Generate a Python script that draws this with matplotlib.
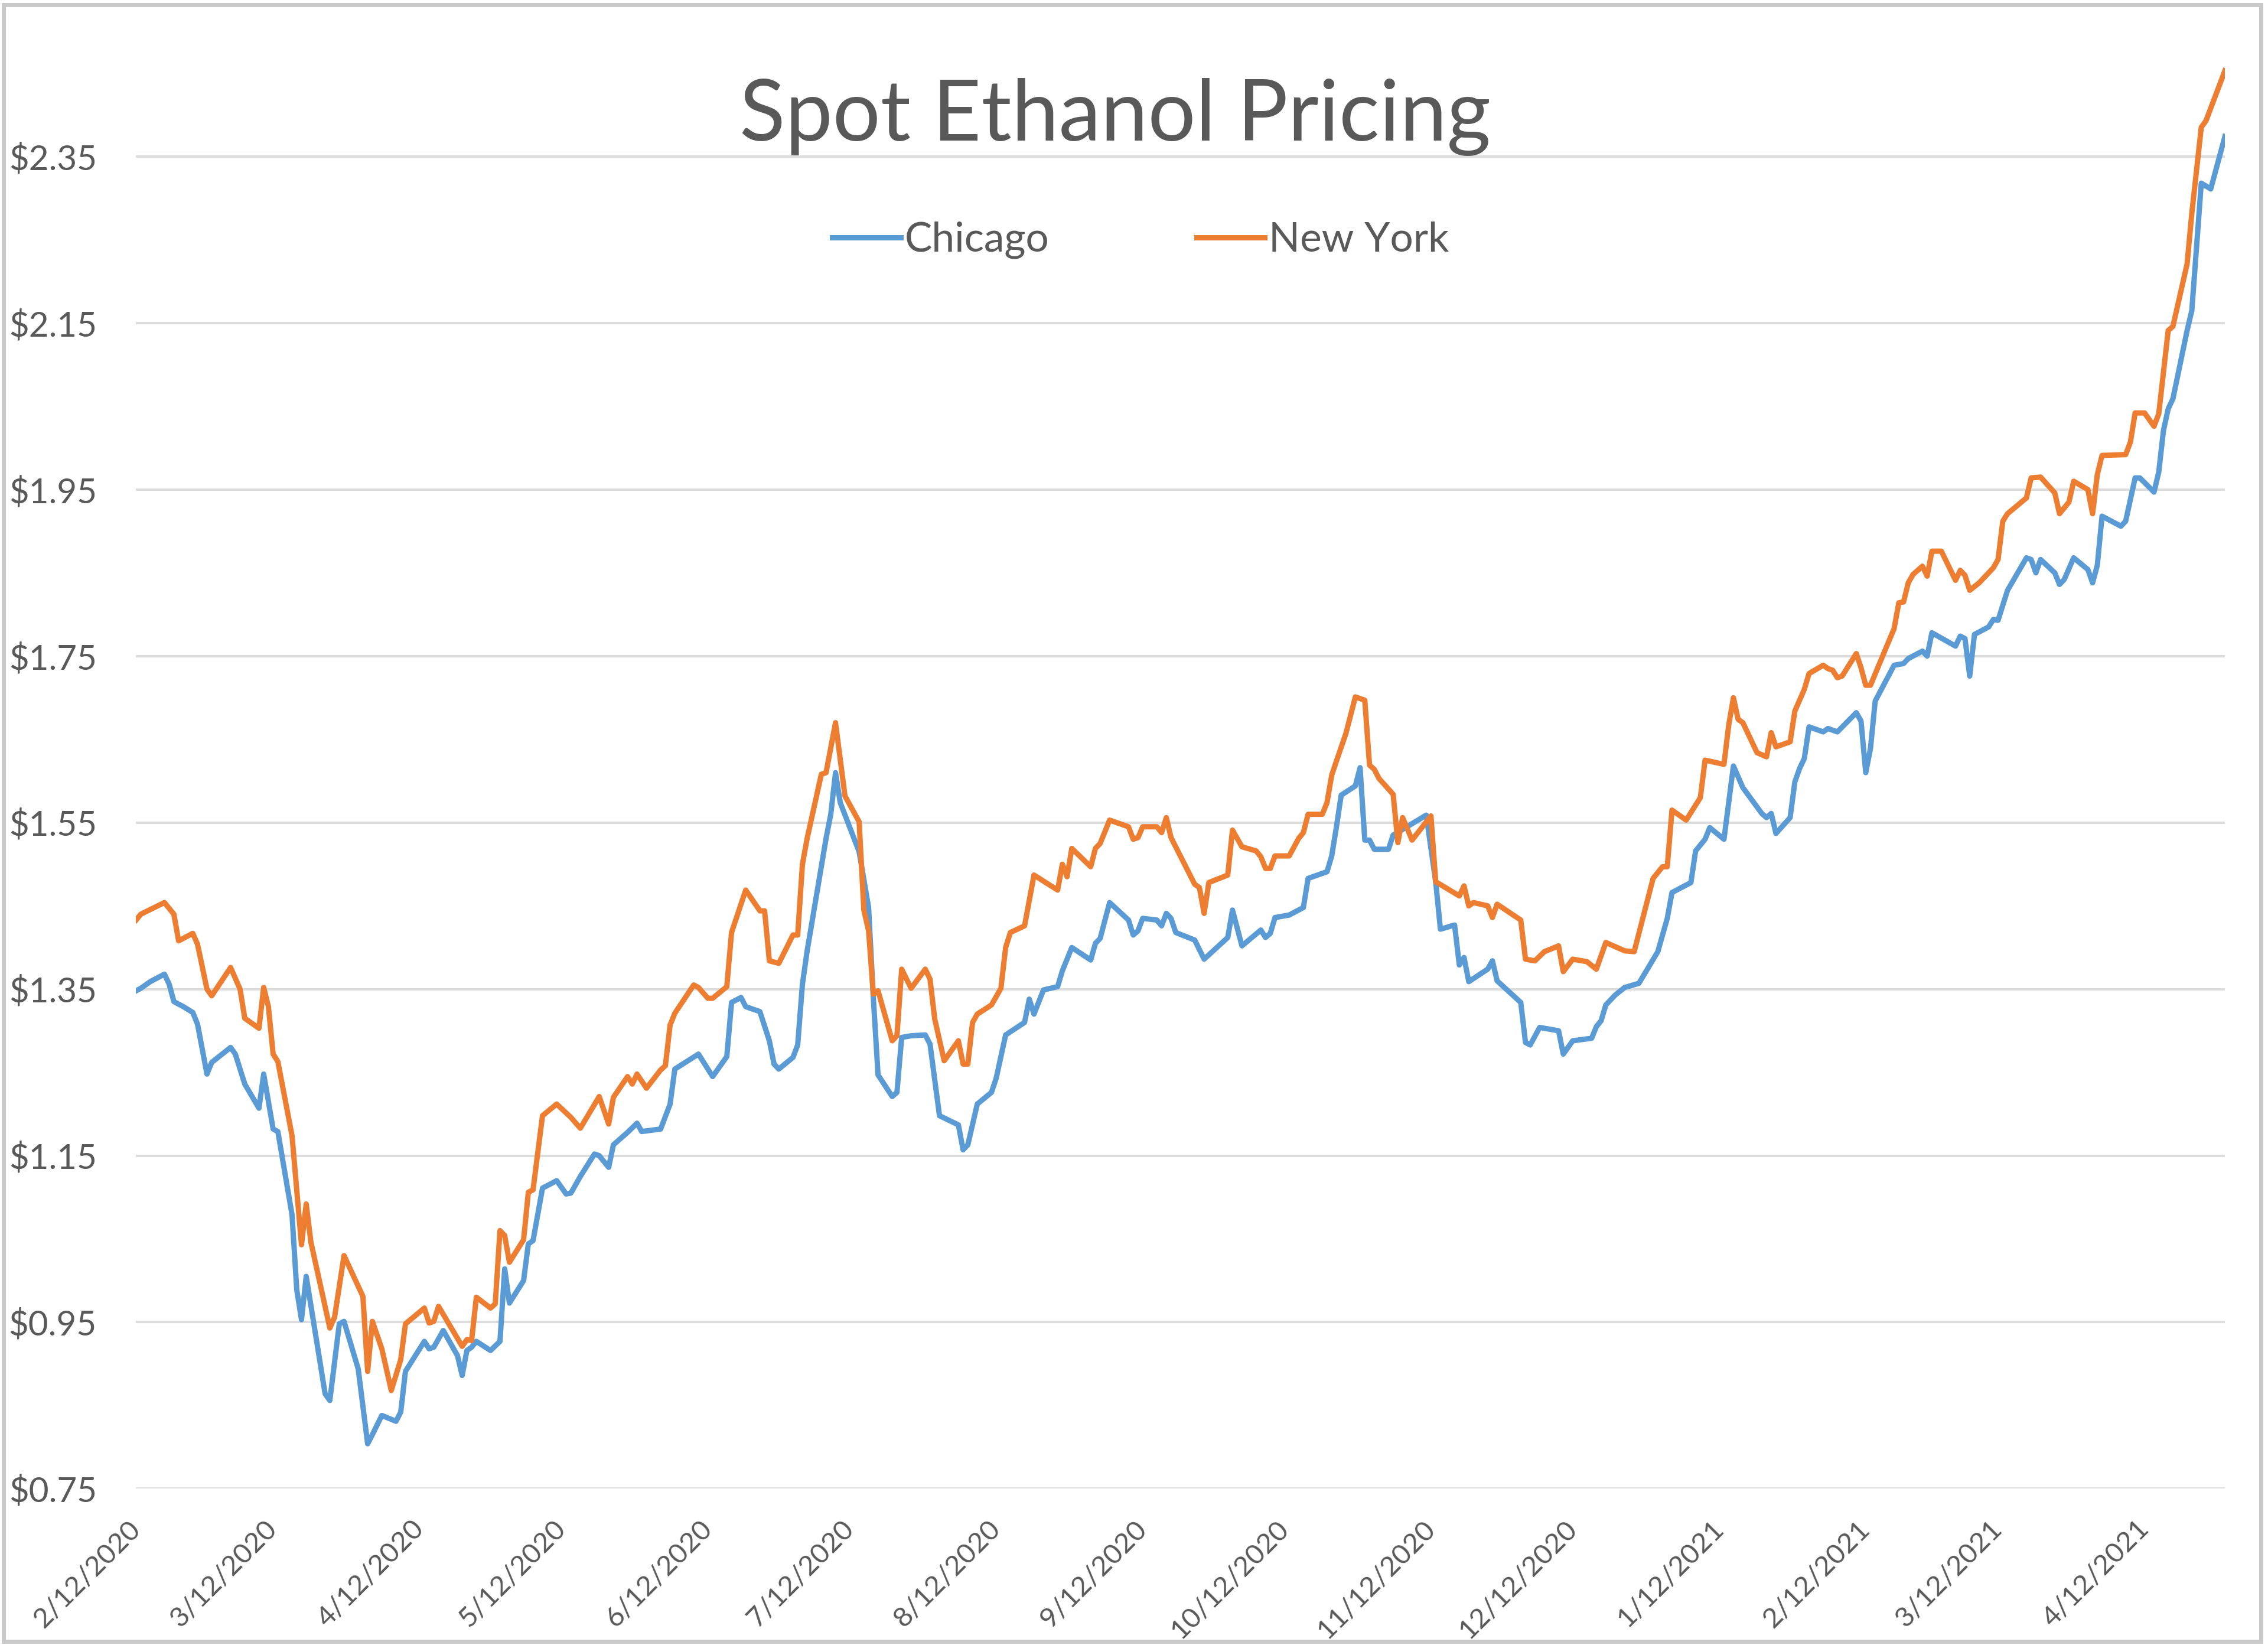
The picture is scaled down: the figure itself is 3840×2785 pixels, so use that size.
import numpy as np
import pandas as pd
import matplotlib
matplotlib.use('Agg')
import matplotlib.pyplot as plt
from matplotlib.patches import Rectangle

plt.rcParams['font.family'] = ['Lato', 'DejaVu Sans']

start = pd.Timestamp('2020-02-12')

# days after 2/12/2020
chi_days = [0, 1, 3, 6, 7, 8, 10, 12, 13, 15, 16, 20, 21, 23, 26, 27, 29, 30, 33, 34,
            35, 36, 40, 41, 43, 44, 47, 49, 50, 52, 55, 56, 57, 61, 62, 63, 65, 68, 69, 70,
            71, 72, 75, 77, 78, 79, 82, 83, 84, 86, 89, 91, 92, 94, 97, 98, 100, 101, 104, 106,
            107, 111, 113, 114, 119, 122, 125, 126, 128, 129, 132, 134, 135, 136, 139, 140, 141, 142, 146, 147,
            148, 149, 153, 155, 156, 157, 160, 161, 162, 164, 167, 168, 170, 174, 175, 176, 178, 181, 182, 184,
            188, 189, 190, 192, 195, 196, 198, 202, 203, 204, 206, 210, 211, 212, 213, 216, 217, 218, 219, 220,
            224, 226, 231, 232, 234, 238, 239, 240, 241, 244, 247, 248, 252, 253, 254, 255, 258, 259, 260, 261,
            262, 265, 266, 273, 275, 276, 279, 280, 281, 282, 286, 287, 288, 293, 294, 295, 297, 301, 302, 304,
            308, 309, 310, 311, 313, 315, 318, 322, 324, 325, 329, 330, 332, 333, 336, 338, 340, 344, 345, 346,
            347, 350, 351, 352, 353, 354, 357, 358, 360, 364, 365, 366, 367, 368, 372, 374, 375, 378, 379, 380,
            385, 386, 387, 388, 389, 392, 393, 394, 396, 400, 401, 402, 403, 406, 407, 408, 410, 413, 414, 415,
            416, 420, 421, 423, 424, 427, 428, 429, 430, 431, 434, 435, 437, 439, 442]
chicago = [1.348, 1.351, 1.359, 1.368, 1.356, 1.335, 1.329, 1.322, 1.308, 1.248, 1.262, 1.280, 1.272, 1.236, 1.207, 1.248, 1.182, 1.179, 1.079, 0.989,
           0.953, 1.005, 0.864, 0.856, 0.948, 0.951, 0.894, 0.804, 0.815, 0.838, 0.831, 0.842, 0.891, 0.927, 0.918, 0.920, 0.940, 0.910, 0.886, 0.916,
           0.920, 0.927, 0.916, 0.927, 1.014, 0.973, 1.000, 1.044, 1.048, 1.111, 1.120, 1.104, 1.105, 1.125, 1.152, 1.150, 1.136, 1.163, 1.178, 1.189,
           1.179, 1.182, 1.212, 1.254, 1.272, 1.245, 1.269, 1.334, 1.340, 1.329, 1.323, 1.288, 1.260, 1.254, 1.268, 1.283, 1.356, 1.396, 1.531, 1.560,
           1.610, 1.574, 1.515, 1.448, 1.340, 1.247, 1.221, 1.226, 1.292, 1.294, 1.295, 1.284, 1.198, 1.187, 1.157, 1.163, 1.212, 1.226, 1.243, 1.295,
           1.310, 1.338, 1.320, 1.349, 1.353, 1.372, 1.400, 1.385, 1.405, 1.411, 1.454, 1.433, 1.415, 1.420, 1.435, 1.433, 1.426, 1.441, 1.435, 1.418,
           1.409, 1.386, 1.412, 1.445, 1.402, 1.421, 1.412, 1.417, 1.436, 1.439, 1.448, 1.483, 1.491, 1.510, 1.545, 1.583, 1.594, 1.616, 1.529, 1.529,
           1.518, 1.518, 1.535, 1.559, 1.479, 1.422, 1.427, 1.379, 1.388, 1.359, 1.374, 1.384, 1.360, 1.334, 1.286, 1.283, 1.304, 1.300, 1.272, 1.288,
           1.291, 1.305, 1.312, 1.331, 1.343, 1.352, 1.357, 1.395, 1.435, 1.466, 1.478, 1.516, 1.530, 1.544, 1.530, 1.618, 1.592, 1.561, 1.556, 1.561,
           1.537, 1.556, 1.599, 1.615, 1.627, 1.665, 1.659, 1.663, 1.659, 1.682, 1.672, 1.610, 1.639, 1.696, 1.739, 1.741, 1.747, 1.756, 1.750, 1.778,
           1.762, 1.774, 1.771, 1.726, 1.776, 1.785, 1.794, 1.793, 1.829, 1.868, 1.866, 1.850, 1.866, 1.850, 1.836, 1.842, 1.868, 1.854, 1.838, 1.859,
           1.918, 1.906, 1.912, 1.964, 1.964, 1.947, 1.971, 2.021, 2.047, 2.059, 2.141, 2.165, 2.318, 2.311, 2.374]

ny_days = [0, 1, 6, 8, 9, 12, 13, 15, 16, 20, 22, 23, 26, 27, 28, 29, 30, 33, 35, 36,
           37, 41, 42, 44, 48, 49, 50, 52, 54, 56, 57, 61, 62, 63, 64, 69, 70, 71, 72, 75,
           76, 77, 78, 79, 82, 83, 84, 86, 89, 92, 94, 98, 100, 101, 104, 105, 106, 108, 111, 112,
           113, 114, 118, 119, 121, 122, 125, 126, 129, 132, 133, 134, 136, 139, 140, 141, 142, 145, 146, 148,
           150, 153, 154, 155, 156, 157, 160, 161, 162, 164, 167, 168, 169, 171, 174, 175, 176, 177, 178, 181,
           183, 184, 185, 188, 190, 195, 196, 197, 198, 202, 203, 204, 206, 210, 211, 212, 213, 216, 217, 218,
           219, 224, 225, 226, 227, 231, 232, 234, 237, 238, 239, 240, 241, 244, 246, 247, 248, 251, 252, 253,
           254, 256, 258, 260, 261, 262, 263, 266, 267, 268, 270, 274, 275, 280, 281, 282, 283, 286, 287, 288,
           293, 294, 296, 298, 301, 302, 304, 307, 309, 310, 311, 315, 317, 321, 323, 324, 325, 328, 331, 332,
           336, 337, 338, 339, 340, 343, 345, 346, 347, 350, 351, 353, 354, 357, 358, 359, 360, 361, 364, 365,
           366, 367, 372, 373, 374, 375, 376, 378, 379, 380, 382, 385, 386, 387, 388, 390, 393, 394, 395, 396,
           400, 401, 403, 406, 407, 409, 410, 413, 414, 415, 416, 421, 422, 423, 425, 427, 428, 430, 431, 434,
           435, 437, 438, 442]
new_york = [1.433, 1.440, 1.454, 1.440, 1.408, 1.417, 1.404, 1.350, 1.342, 1.376, 1.350, 1.315, 1.303, 1.352, 1.329, 1.272, 1.263, 1.174, 1.043, 1.092,
            1.046, 0.943, 0.956, 1.030, 0.981, 0.891, 0.951, 0.918, 0.868, 0.905, 0.948, 0.967, 0.949, 0.951, 0.969, 0.921, 0.929, 0.928, 0.980, 0.967,
            0.972, 1.060, 1.054, 1.022, 1.049, 1.106, 1.109, 1.198, 1.212, 1.196, 1.183, 1.221, 1.188, 1.220, 1.245, 1.236, 1.248, 1.231, 1.253, 1.258,
            1.307, 1.321, 1.355, 1.352, 1.339, 1.339, 1.353, 1.418, 1.469, 1.444, 1.444, 1.384, 1.381, 1.415, 1.415, 1.500, 1.531, 1.608, 1.610, 1.670,
            1.582, 1.551, 1.445, 1.420, 1.344, 1.348, 1.288, 1.294, 1.374, 1.351, 1.374, 1.362, 1.314, 1.264, 1.288, 1.260, 1.260, 1.310, 1.320, 1.331,
            1.351, 1.400, 1.418, 1.426, 1.487, 1.469, 1.500, 1.485, 1.519, 1.497, 1.519, 1.525, 1.553, 1.545, 1.530, 1.532, 1.545, 1.545, 1.538, 1.556,
            1.532, 1.476, 1.472, 1.441, 1.478, 1.487, 1.541, 1.521, 1.516, 1.509, 1.495, 1.495, 1.510, 1.510, 1.531, 1.538, 1.560, 1.560, 1.574, 1.607,
            1.624, 1.657, 1.701, 1.697, 1.619, 1.614, 1.603, 1.584, 1.526, 1.556, 1.529, 1.558, 1.479, 1.462, 1.474, 1.450, 1.454, 1.450, 1.436, 1.452,
            1.433, 1.386, 1.384, 1.395, 1.402, 1.371, 1.386, 1.383, 1.374, 1.390, 1.406, 1.396, 1.395, 1.483, 1.497, 1.497, 1.565, 1.553, 1.580, 1.625,
            1.620, 1.667, 1.700, 1.674, 1.670, 1.634, 1.629, 1.658, 1.641, 1.647, 1.684, 1.710, 1.729, 1.739, 1.735, 1.733, 1.724, 1.726, 1.753, 1.736,
            1.715, 1.715, 1.783, 1.814, 1.815, 1.838, 1.848, 1.858, 1.846, 1.876, 1.876, 1.841, 1.853, 1.847, 1.829, 1.838, 1.856, 1.866, 1.912, 1.921,
            1.940, 1.964, 1.965, 1.946, 1.921, 1.935, 1.960, 1.950, 1.921, 1.968, 1.991, 1.992, 2.007, 2.042, 2.042, 2.026, 2.041, 2.141, 2.146, 2.221,
            2.282, 2.385, 2.393, 2.453]

y_ticks = [0.75, 0.95, 1.15, 1.35, 1.55, 1.75, 1.95, 2.15, 2.35]
# monthly ticks on the 12th, 2/12/2020 .. 4/12/2021
x_ticks = pd.date_range('2020-02-01', '2021-04-01', freq='MS') + pd.Timedelta(days=11)

chi_dates = start + pd.to_timedelta(chi_days, unit='D')
ny_dates = start + pd.to_timedelta(ny_days, unit='D')

text_col = '#595959'

fig = plt.figure(figsize=(38.4, 27.85), dpi=100)
ax = fig.add_axes([0.060, 0.095, 0.921, 0.8706])

ax.plot(chi_dates, chicago, color='#5B9BD5', lw=6.5, label='Chicago', solid_joinstyle='round')
ax.plot(ny_dates, new_york, color='#ED7D31', lw=6.5, label='New York', solid_joinstyle='round')

ax.set_xlim(start, ny_dates[-1])
ax.set_ylim(0.75, 2.47)
ax.set_yticks(y_ticks)
ax.set_yticklabels([f'${v:.2f}' for v in y_ticks])
ax.set_xticks(x_ticks)
ax.set_xticklabels([f'{d.month}/{d.day}/{d.year}' for d in x_ticks],
                   rotation=45, ha='right', va='center', rotation_mode='anchor')

ax.grid(axis='y', color='#DDDDDD', lw=3)
ax.set_axisbelow(True)
for s in ax.spines.values():
    s.set_visible(False)
ax.tick_params(axis='both', length=0, colors=text_col)
ax.tick_params(axis='y', pad=48, labelsize=42)
ax.tick_params(axis='x', pad=44, labelsize=34)

fig.text(0.4917, 0.9147, 'Spot Ethanol Pricing', ha='center', va='baseline',
         fontsize=103, color=text_col)

ax.legend(loc='center', bbox_to_anchor=(0.503, 0.854), bbox_transform=fig.transFigure,
          ncol=2, frameon=False, fontsize=50, labelcolor=text_col,
          handlelength=1.66, handletextpad=0.1, columnspacing=3.6)

fig.patches.append(Rectangle((0.0015, 0.002), 0.9955, 0.995, transform=fig.transFigure,
                             fill=False, edgecolor='#C9C9C9', lw=5))

fig.savefig('out.png', dpi=100, facecolor='white')
